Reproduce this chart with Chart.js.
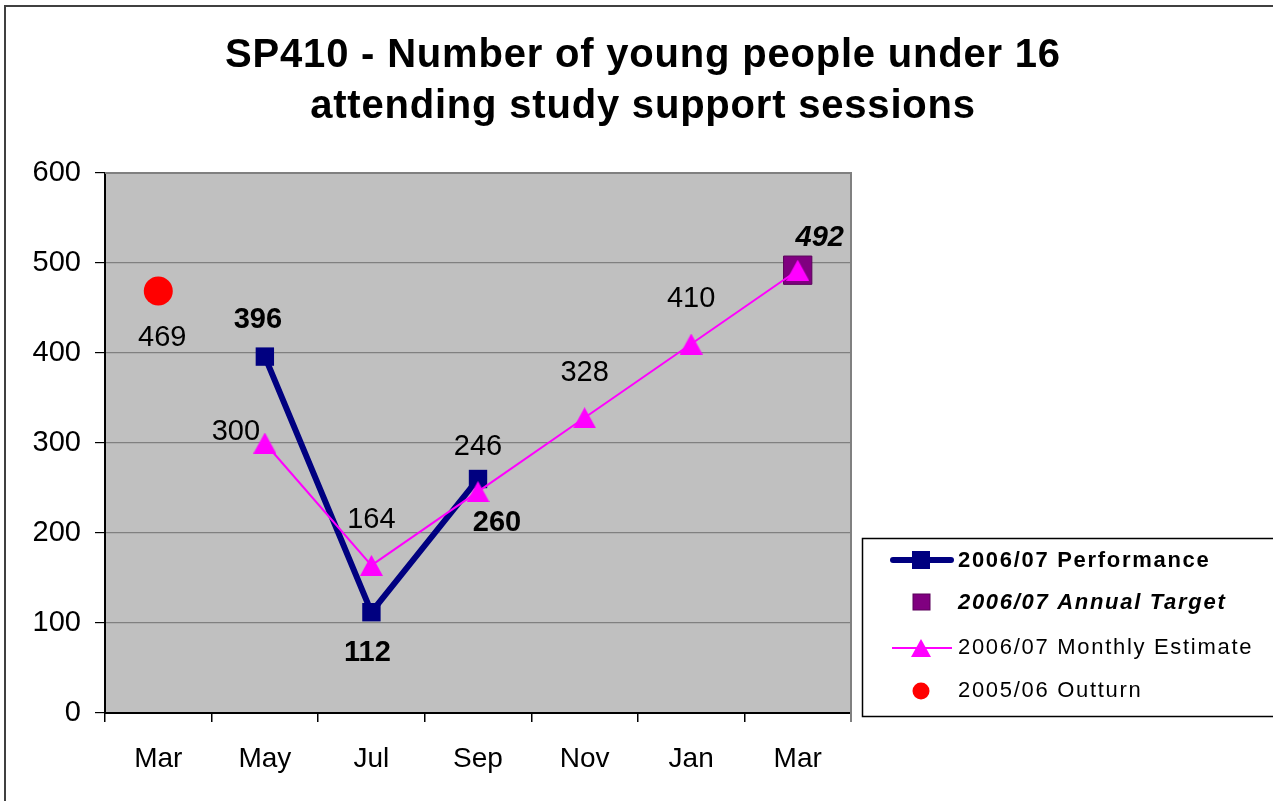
<!DOCTYPE html>
<html>
<head>
<meta charset="utf-8">
<script src="https://cdn.jsdelivr.net/npm/chart.js@4/dist/chart.umd.min.js"></script>
<style>
  html, body { margin: 0; padding: 0; background: #fff; }
  #wrap { width: 1273px; height: 801px; position: relative; }
</style>
</head>
<body>
<div id="wrap"><canvas id="c" width="1273" height="801"></canvas></div>
<script>
const categories = ['Mar', 'May', 'Jul', 'Sep', 'Nov', 'Jan', 'Mar'];
const yTicks = [0, 100, 200, 300, 400, 500, 600];
const performance = [null, 396, 112, 260, null, null, null];
const annualTarget = [null, null, null, null, null, null, 492];
const monthlyEstimate = [null, 300, 164, 246, 328, 410, 492];
const outturn = [469, null, null, null, null, null, null];
const titleLines = ['SP410 - Number of young people under 16', 'attending study support sessions'];
const seriesNames = ['2006/07 Performance', '2006/07 Annual Target', '2006/07 Monthly Estimate', '2005/06 Outturn'];

const FONT = '"Liberation Sans", Arial, sans-serif';

// triangle marker image centred on its bounding box
function triangleImg(w, h, color) {
  const c = document.createElement('canvas');
  c.width = w; c.height = h;
  const g = c.getContext('2d');
  g.fillStyle = color;
  g.beginPath(); g.moveTo(w / 2, 0); g.lineTo(w, h); g.lineTo(0, h); g.closePath(); g.fill();
  return c;
}
const triMarker = triangleImg(23, 21, '#FF00FF');

// label placement styles per dataset (index -> [dx, dy]) relative to point
const labelStyle = {
  0: { font: 'bold 29px ' + FONT, pos: { 1: [-7, -37], 2: [-4, 41], 3: [19, 44] } },
  1: { font: 'italic bold 29px ' + FONT, pos: { 6: [22, -32] } },
  2: { font: '29px ' + FONT, pos: { 1: [-29, -11], 2: [0, -45], 3: [0, -45], 4: [0, -45], 5: [0, -45] } },
  3: { font: '29px ' + FONT, pos: { 0: [4, 47] } }
};

const decor = {
  id: 'decor',
  beforeDraw(chart) {
    const ctx = chart.ctx;
    const a = chart.chartArea;
    ctx.save();
    ctx.fillStyle = '#fff';
    ctx.fillRect(0, 0, chart.width, chart.height);
    // outer border
    ctx.strokeStyle = '#404040';
    ctx.lineWidth = 2;
    ctx.beginPath();
    ctx.moveTo(5, 801);
    ctx.lineTo(5, 6);
    ctx.lineTo(1273, 6);
    ctx.stroke();
    // plot bg
    ctx.fillStyle = '#C0C0C0';
    ctx.fillRect(a.left, a.top, a.right - a.left, a.bottom - a.top);
    // title
    ctx.fillStyle = '#000';
    ctx.font = 'bold 40px ' + FONT;
    ctx.letterSpacing = '0.8px';
    ctx.textAlign = 'center';
    ctx.textBaseline = 'alphabetic';
    ctx.fillText(titleLines[0], 643, 67);
    ctx.fillText(titleLines[1], 643, 118);
    ctx.letterSpacing = '0px';
    ctx.restore();
  },
  afterDatasetsDraw(chart) {
    const ctx = chart.ctx;
    const a = chart.chartArea;
    ctx.save();
    // right & top plot border in gray
    ctx.strokeStyle = '#808080';
    ctx.lineWidth = 2;
    ctx.beginPath();
    ctx.moveTo(a.left, a.top);
    ctx.lineTo(a.right, a.top);
    ctx.lineTo(a.right, a.bottom + 9);
    ctx.stroke();
    // data labels
    ctx.fillStyle = '#000';
    ctx.textAlign = 'center';
    ctx.textBaseline = 'middle';
    chart.data.datasets.forEach((ds, di) => {
      const st = labelStyle[di];
      const meta = chart.getDatasetMeta(di);
      ctx.font = st.font;
      ds.data.forEach((v, i) => {
        if (v === null || !st.pos[i]) return;
        const el = meta.data[i];
        ctx.fillText(String(v), el.x + st.pos[i][0], el.y + st.pos[i][1]);
      });
    });
    // legend
    const lx = 862, ly = 538, lw = 420, lh = 178;
    ctx.fillStyle = '#fff';
    ctx.fillRect(lx, ly, lw, lh);
    ctx.strokeStyle = '#000';
    ctx.lineWidth = 1.5;
    ctx.strokeRect(lx + 0.5, ly + 0.5, lw, lh);
    const rows = [560, 602, 647, 690];
    const mx = 921;
    ctx.textAlign = 'left';
    ctx.textBaseline = 'middle';
    // Performance
    ctx.strokeStyle = '#000080';
    ctx.lineWidth = 6;
    ctx.lineCap = 'round';
    ctx.beginPath(); ctx.moveTo(893, rows[0]); ctx.lineTo(951, rows[0]); ctx.stroke();
    ctx.fillStyle = '#000080';
    ctx.fillRect(mx - 9, rows[0] - 9, 18, 18);
    // Target
    ctx.fillStyle = '#800080';
    ctx.fillRect(mx - 8, rows[1] - 8, 17, 16);
    ctx.strokeStyle = '#5a005a'; ctx.lineWidth = 1;
    ctx.strokeRect(mx - 8, rows[1] - 8, 17, 16);
    // Estimate
    ctx.strokeStyle = '#FF00FF'; ctx.lineWidth = 2; ctx.lineCap = 'butt';
    ctx.beginPath(); ctx.moveTo(892, rows[2] + 1); ctx.lineTo(952, rows[2] + 1); ctx.stroke();
    ctx.fillStyle = '#FF00FF';
    ctx.beginPath(); ctx.moveTo(mx, rows[2] - 8); ctx.lineTo(mx + 10, rows[2] + 10); ctx.lineTo(mx - 10, rows[2] + 10); ctx.closePath(); ctx.fill();
    // Outturn
    ctx.fillStyle = '#FF0000';
    ctx.beginPath(); ctx.arc(mx, rows[3] + 1, 8.5, 0, Math.PI * 2); ctx.fill();
    // texts
    ctx.fillStyle = '#000';
    ctx.letterSpacing = '1.7px';
    const fonts = ['bold 22px ' + FONT, 'italic bold 22px ' + FONT, '22px ' + FONT, '22px ' + FONT];
    seriesNames.forEach((n, i) => {
      ctx.font = fonts[i];
      ctx.fillText(n, 958, rows[i] + 1);
    });
    ctx.letterSpacing = '0px';
    ctx.restore();
  }
};

new Chart(document.getElementById('c'), {
  type: 'line',
  data: {
    labels: categories,
    datasets: [
      {
        label: seriesNames[0], data: performance, order: 1,
        borderColor: '#000080', backgroundColor: '#000080', borderWidth: 6,
        pointStyle: 'rect', pointRadius: 13, pointBorderWidth: 0, spanGaps: false
      },
      {
        label: seriesNames[1], data: annualTarget, order: 2, showLine: false,
        borderColor: '#5a005a', backgroundColor: '#800080', pointBorderWidth: 1,
        pointStyle: 'rect', pointRadius: 20
      },
      {
        label: seriesNames[2], data: monthlyEstimate, order: 0,
        borderColor: '#FF00FF', backgroundColor: '#FF00FF', borderWidth: 2,
        pointStyle: triMarker, pointRadius: 12, pointBorderWidth: 0
      },
      {
        label: seriesNames[3], data: outturn, order: 3, showLine: false,
        borderColor: '#FF0000', backgroundColor: '#FF0000',
        pointStyle: 'circle', pointRadius: 14.5, pointBorderWidth: 0
      }
    ]
  },
  options: {
    responsive: false,
    animation: false,
    events: [],
    layout: { padding: { left: 0, top: 173, right: 422, bottom: 0 } },
    plugins: { legend: { display: false }, title: { display: false }, tooltip: { enabled: false } },
    scales: {
      x: {
        type: 'category',
        offset: true,
        grid: { offset: true, drawOnChartArea: false, color: '#000', tickColor: '#000', tickLength: 9, lineWidth: 1.5 },
        border: { color: '#000', width: 2 },
        ticks: { color: '#000', font: { family: FONT, size: 28 }, padding: 20, maxRotation: 0, autoSkip: false },
        afterFit(s) { s.height = 88; }
      },
      y: {
        min: 0, max: 600,
        afterBuildTicks(s) { s.ticks = yTicks.map(v => ({ value: v })); },
        grid: { color: '#808080', tickColor: '#000', tickLength: 10, lineWidth: 1.2 },
        border: { color: '#000', width: 2 },
        ticks: { color: '#000', font: { family: FONT, size: 29 }, padding: 14 },
        afterFit(s) { s.width = 105; }
      }
    }
  },
  plugins: [decor]
});
</script>
</body>
</html>
